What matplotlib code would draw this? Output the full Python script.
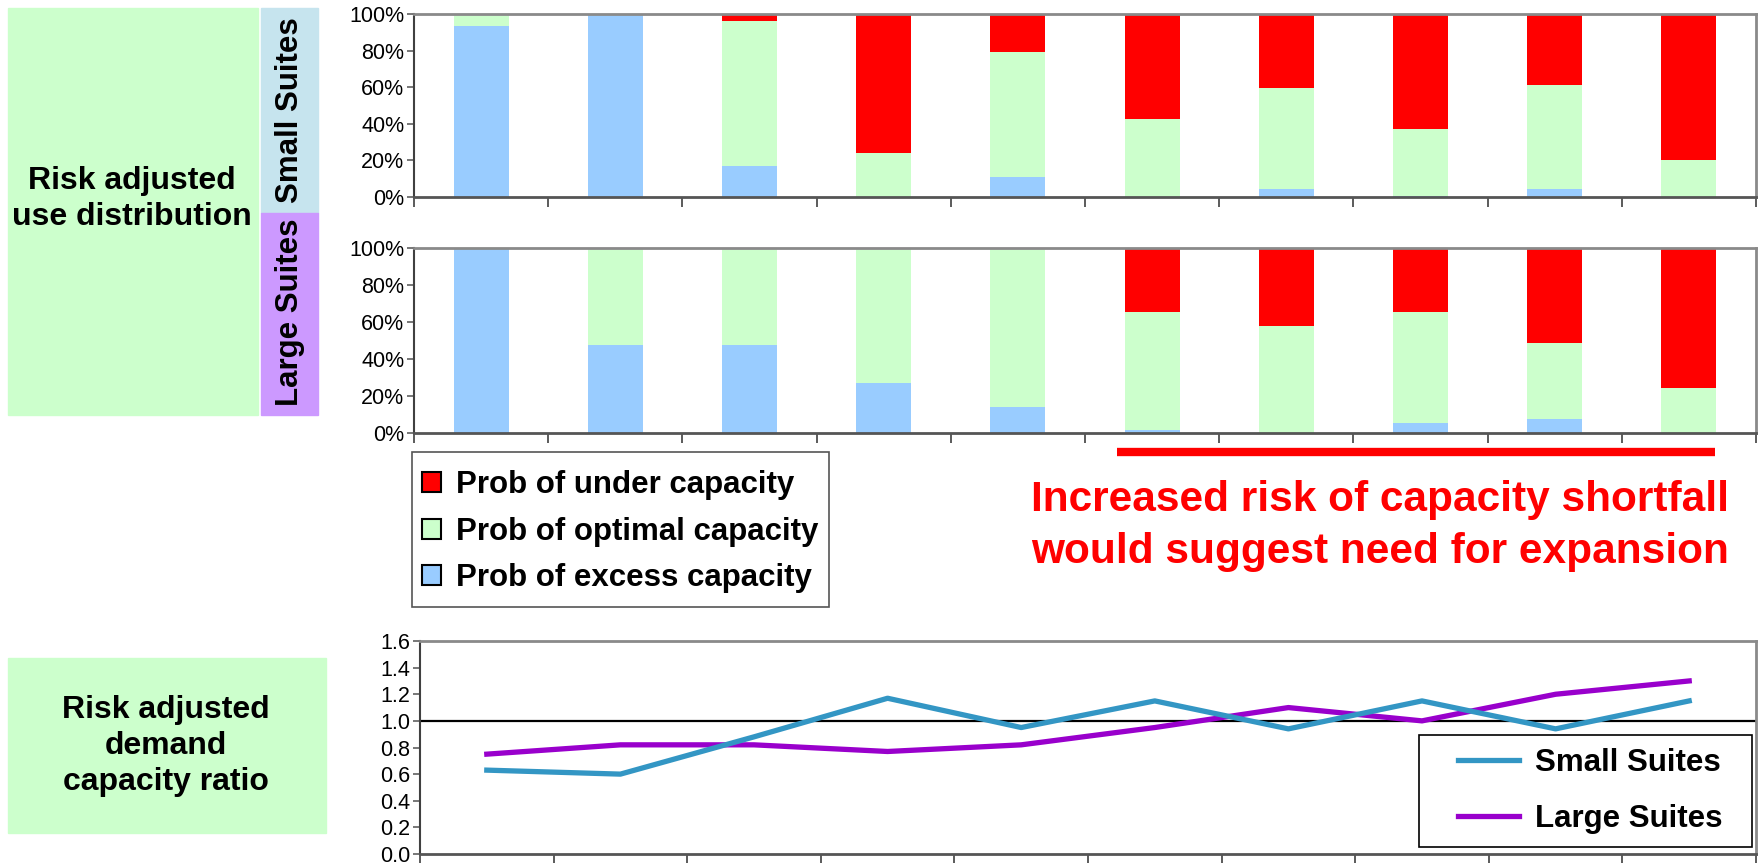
import matplotlib
matplotlib.use("Agg")
import matplotlib.pyplot as plt
from matplotlib.patches import Rectangle, Patch
from matplotlib.lines import Line2D
from matplotlib.ticker import FixedLocator, FuncFormatter
import numpy as np

plt.rcParams['font.family'] = ['Liberation Sans', 'DejaVu Sans']

# ---- data -------------------------------------------------------------
periods = list(range(1, 11))

small_excess = [93.5, 100.0, 16.7, 0.0, 11.1, 0.0, 4.5, 0.7, 4.5, 0.0]
small_optimal = [6.5, 0.0, 79.5, 24.2, 68.2, 42.7, 55.1, 36.6, 56.8, 20.4]
small_under = [0.0, 0.0, 3.8, 75.8, 20.7, 57.3, 40.4, 62.7, 38.7, 79.6]

large_excess = [100.0, 47.6, 47.6, 27.0, 14.0, 1.5, 0.0, 5.3, 7.4, 0.0]
large_optimal = [0.0, 52.4, 52.4, 73.0, 86.0, 64.1, 58.0, 60.3, 41.3, 24.3]
large_under = [0.0, 0.0, 0.0, 0.0, 0.0, 34.4, 42.0, 34.4, 51.3, 75.7]

ratio_small = [0.63, 0.60, 0.88, 1.17, 0.95, 1.15, 0.94, 1.15, 0.94, 1.15]
ratio_large = [0.75, 0.82, 0.82, 0.77, 0.82, 0.95, 1.10, 1.00, 1.20, 1.30]

legend_labels = ["Prob of under capacity", "Prob of optimal capacity",
                 "Prob of excess capacity"]
series_labels = ["Small Suites", "Large Suites"]

# ---- styling ----------------------------------------------------------
RED, GREEN, BLUE = "#FF0000", "#CCFFCC", "#99CCFF"
LINE_SMALL, LINE_LARGE = "#3396C4", "#9900CC"
PANEL_GREEN = "#CCFFCC"
FS_BIG = 22.5  # points

W, H = 1760, 863
fig = plt.figure(figsize=(W / 100, H / 100), dpi=100)
fig.patch.set_facecolor("white")


def rect(l, t, r, b):
    return [l / W, 1 - b / H, (r - l) / W, (b - t) / H]


def fx(x):
    return x / W


def fy(y):
    return 1 - y / H


def frame_box(l, t, r, b, edge):
    fig.add_artist(Rectangle((fx(l), fy(b)), (r - l) / W, (b - t) / H,
                             transform=fig.transFigure, facecolor="white",
                             edgecolor=edge, linewidth=1.2, zorder=4))


def style_axes(ax):
    ax.set_xlim(0, 10)
    for side in ("top", "right"):
        ax.spines[side].set_color("#8A8A8A")
        ax.spines[side].set_linewidth(2.0)
    ax.spines["left"].set_color("#404040")
    ax.spines["left"].set_linewidth(1.5)
    ax.spines["bottom"].set_color("#555555")
    ax.spines["bottom"].set_linewidth(2.0)
    ax.xaxis.set_major_locator(FixedLocator(np.arange(0, 11)))
    ax.tick_params(axis="x", direction="out", length=7, width=1.2,
                   color="#404040", labelbottom=False)
    ax.tick_params(axis="y", direction="out", length=5, width=1.2,
                   color="#606060", labelsize=15.5, pad=2)


def stacked(ax, excess, optimal, under):
    x = np.arange(len(periods)) + 0.5
    w = 0.41
    ax.bar(x, excess, w, color=BLUE, linewidth=0)
    ax.bar(x, optimal, w, bottom=excess, color=GREEN, linewidth=0)
    base = np.array(excess) + np.array(optimal)
    ax.bar(x, under, w, bottom=base, color=RED, linewidth=0)
    ax.set_ylim(0, 100)
    ax.yaxis.set_major_locator(FixedLocator(np.arange(0, 101, 20)))
    ax.yaxis.set_major_formatter(FuncFormatter(lambda v, p: f"{v:.0f}%"))
    style_axes(ax)


# ---- left-hand label panels --------------------------------------------
fig.patches.append(Rectangle((fx(8), fy(415)), fx(250), 407 / H,
                             transform=fig.transFigure, color=PANEL_GREEN, zorder=0))
fig.patches.append(Rectangle((fx(261), fy(213)), fx(57), 205 / H,
                             transform=fig.transFigure, color="#C6E4EE", zorder=0))
fig.patches.append(Rectangle((fx(261), fy(415)), fx(57), 202 / H,
                             transform=fig.transFigure, color="#CC99FF", zorder=0))
fig.patches.append(Rectangle((fx(8), fy(833)), fx(318), 175 / H,
                             transform=fig.transFigure, color=PANEL_GREEN, zorder=0))

fig.text(fx(132), fy(199), "Risk adjusted\nuse distribution", ha="center",
         va="center", fontsize=23, fontweight="bold", linespacing=1.25)
fig.text(fx(290), fy(110), "Small Suites", ha="center", va="center",
         rotation=90, fontsize=FS_BIG, fontweight="bold")
fig.text(fx(290), fy(312), "Large Suites", ha="center", va="center",
         rotation=90, fontsize=FS_BIG, fontweight="bold")
fig.text(fx(166), fy(746), "Risk adjusted\ndemand\ncapacity ratio",
         ha="center", va="center", fontsize=23, fontweight="bold",
         linespacing=1.25)

# ---- stacked probability charts ----------------------------------------
ax_small = fig.add_axes(rect(414, 14, 1756, 197))
stacked(ax_small, small_excess, small_optimal, small_under)

ax_large = fig.add_axes(rect(414, 248, 1756, 433))
stacked(ax_large, large_excess, large_optimal, large_under)

frame_box(412, 452, 829, 607, "#555555")
handles = [Patch(facecolor=c, edgecolor="black", linewidth=1.5)
           for c in (RED, GREEN, BLUE)]
fig.legend(handles, legend_labels, loc="upper left",
           bbox_to_anchor=(fx(422), fy(470)), frameon=False,
           prop={"size": FS_BIG, "weight": "bold"}, handlelength=0.61,
           handleheight=0.61, handletextpad=0.48, labelspacing=0.53,
           borderpad=0, borderaxespad=0).set_zorder(5)

# highlight of the later periods
fig.add_artist(Line2D([fx(1117), fx(1715)], [fy(452), fy(452)],
                      color=RED, linewidth=6, solid_capstyle="butt"))
fig.text(fx(1380), fy(526), "Increased risk of capacity shortfall\n"
         "would suggest need for expansion", ha="center", va="center",
         color=RED, fontsize=30.5, fontweight="bold", linespacing=1.4)

# ---- demand / capacity ratio --------------------------------------------
ax_ratio = fig.add_axes(rect(420, 641, 1756, 854))
xs = np.arange(len(periods)) + 0.5
ax_ratio.axhline(1.0, color="black", linewidth=1.6, zorder=1)
ax_ratio.plot(xs, ratio_small, color=LINE_SMALL, linewidth=3.8,
              label=series_labels[0], zorder=3)
ax_ratio.plot(xs, ratio_large, color=LINE_LARGE, linewidth=3.8,
              label=series_labels[1], zorder=2)
ax_ratio.set_ylim(0, 1.6)
ax_ratio.yaxis.set_major_locator(FixedLocator(np.arange(0, 1.61, 0.2)))
ax_ratio.yaxis.set_major_formatter(FuncFormatter(lambda v, p: f"{v:.1f}"))
style_axes(ax_ratio)

frame_box(1419, 735, 1752, 847, "black")
fig.legend(*ax_ratio.get_legend_handles_labels(), loc="upper left",
           bbox_to_anchor=(fx(1458), fy(748)), frameon=False,
           prop={"size": FS_BIG, "weight": "bold"}, handlelength=1.95,
           handletextpad=0.5, labelspacing=0.83, borderpad=0,
           borderaxespad=0).set_zorder(5)

fig.savefig("out.png", dpi=100, facecolor="white")
